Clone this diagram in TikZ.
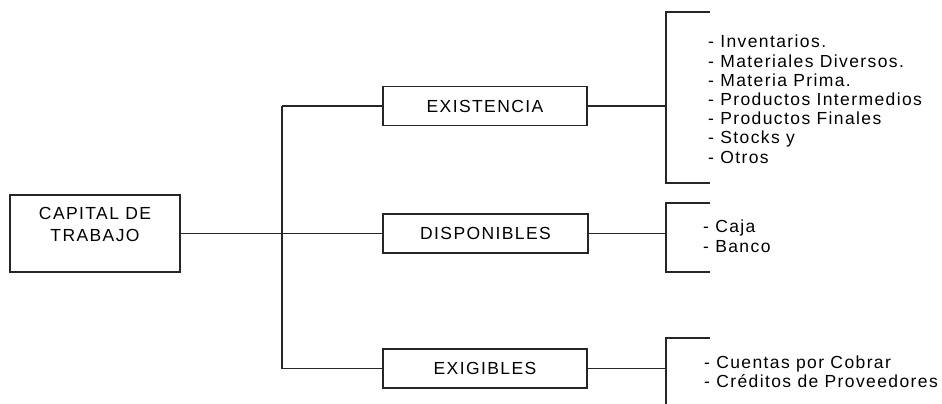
\documentclass[tikz,border=0pt]{standalone}
\usepackage{fontspec}
\setmainfont{Liberation Sans}[LetterSpace=8]
\begin{document}
\begin{tikzpicture}[x=1pt,y=-1pt,
  every node/.style={font=\fontsize{17.5}{21.7}\selectfont, text=black},
  box/.style={draw=black!85, line width=1.5pt, rectangle, inner sep=0pt, text height=12.5pt, text depth=0pt},
  ln/.style={draw=black!85, line width=1.5pt},
  item/.style={anchor=base west, inner sep=0pt}]
\useasboundingbox (0,0) rectangle (942,404);
% main box
\node[box, minimum width=170pt, minimum height=77pt] (capital) at (95,233.5) {};
\node[inner sep=0pt, align=center, anchor=base] (captext) at (95,241) {CAPITAL DE\\TRABAJO};
% category boxes
\node[box, minimum width=204pt, minimum height=39pt] (existencia) at (485,106) {EXISTENCIA};
\node[box, minimum width=205pt, minimum height=39pt] (disponibles) at (485.5,233.5) {DISPONIBLES};
\node[box, minimum width=204pt, minimum height=39pt] (exigibles) at (485,368.5) {EXIGIBLES};
% trunk
\coordinate (t1) at (282,106);
\coordinate (t3) at (282,368.5);
\draw[ln] (capital.east) -- (disponibles.west);
\draw[ln] (t1) -- (t3);
\draw[ln] (t1) -- (existencia.west);
\draw[ln] (t3) -- (exigibles.west);
% brackets
\coordinate (e1t) at (710,12);
\coordinate (e1b) at (710,183);
\coordinate (e1c) at (666,106);
\draw[ln] (e1t) -| (e1c) |- (e1b);
\draw[ln] (existencia.east) -- (e1c);
\coordinate (d1t) at (710,203);
\coordinate (d1b) at (710,272);
\coordinate (d1c) at (666,233.5);
\draw[ln] (d1t) -| (d1c) |- (d1b);
\draw[ln] (disponibles.east) -- (d1c);
\coordinate (x1t) at (710,338);
\coordinate (x1b) at (666,406);
\coordinate (x1c) at (666,368.5);
\draw[ln] (x1t) -| (x1c) -- (x1b);
\draw[ln] (exigibles.east) -- (x1c);
% lists
\foreach \t [count=\i from 0] in {- Inventarios., - Materiales Diversos., - Materia Prima., - Productos Intermedios, - Productos Finales, - Stocks y, - Otros}
  \node[item] (ei\i) at (708,48+19.17*\i) {\t};
\node[item] (d0) at (703,232.3) {- Caja};
\node[item] (d1) at (703,252.5) {- Banco};
\node[item] (x0) at (704,368) {- Cuentas por Cobrar};
\node[item] (x1) at (704,387.5) {- Créditos de Proveedores};
\end{tikzpicture}
\end{document}
